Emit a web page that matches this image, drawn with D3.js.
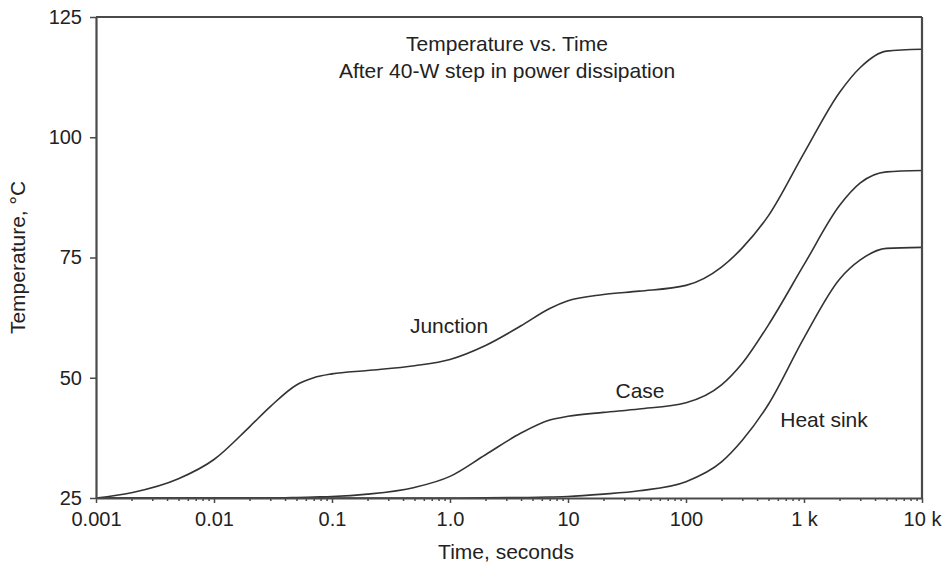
<!DOCTYPE html>
<html>
<head>
<meta charset="utf-8">
<script src="https://cdn.jsdelivr.net/npm/d3@7"></script>
<style>
html,body{margin:0;padding:0;background:#fff;}
svg text{font-family:"Liberation Sans",Arial,Helvetica,sans-serif;fill:#222;}
</style>
</head>
<body>
<svg id="chart" width="950" height="562"></svg>
<script>
// Data
const times = [0.001, 0.002, 0.005, 0.01, 0.02, 0.03, 0.05, 0.07, 0.1, 0.2, 0.5, 1, 2, 4, 7, 10, 20, 40, 100, 200, 300, 500, 1000, 2000, 3000, 5000, 10000];
const junction = [25, 26.1, 29.0, 33.0, 39.8, 44.0, 48.5, 50.0, 50.8, 51.5, 52.5, 53.8, 56.7, 60.8, 64.4, 66.0, 67.3, 68.0, 69.2, 73.0, 77.0, 83.7, 96.7, 109.3, 114.5, 117.9, 118.3];
const caseT   = [25, 25, 25, 25, 25, 25, 25.1, 25.2, 25.3, 25.8, 27.2, 29.5, 34.0, 38.5, 41.2, 42.0, 42.8, 43.5, 44.8, 48.5, 53.0, 61.0, 73.5, 85.8, 90.5, 92.8, 93.1];
const heatSink= [25, 25, 25, 25, 25, 25, 25, 25, 25, 25, 25, 25, 25.05, 25.1, 25.2, 25.3, 25.8, 26.5, 28.4, 32.5, 37.0, 44.5, 58.3, 70.5, 74.5, 76.9, 77.1];
const seriesNames = ["Junction", "Case", "Heat sink"];
const xTickValues = [0.001, 0.01, 0.1, 1, 10, 100, 1000, 10000];
const xTickLabels = ["0.001", "0.01", "0.1", "1.0", "10", "100", "1 k", "10 k"];
const yTickValues = [25, 50, 75, 100, 125];
const titleLines = ["Temperature vs. Time", "After 40-W step in power dissipation"];

const svg = d3.select("#chart");
const m = {left: 96, right: 28, top: 17, bottom: 64};
const W = 950, H = 562;
const x = d3.scaleLog().domain([0.001, 10000]).range([m.left, W - m.right]);
const y = d3.scaleLinear().domain([25, 125]).range([H - m.bottom, m.top]);

const axisColor = "#4a4a4a";

// curves
const line = d3.line().x(d => x(d[0])).y(d => y(d[1])).curve(d3.curveMonotoneX);
[junction, caseT, heatSink].forEach(vals => {
  svg.append("path")
    .datum(times.map((t, i) => [t, vals[i]]))
    .attr("fill", "none").attr("stroke", "#333").attr("stroke-width", 1.6)
    .attr("d", line);
});

// minor ticks on x
const minor = [];
for (let e = -3; e < 4; e++) for (let k = 2; k <= 9; k++) minor.push(k * Math.pow(10, e));
svg.append("g").attr("transform", `translate(0,${y(25)})`)
  .call(d3.axisBottom(x).tickValues(minor).tickSize(3).tickFormat(""))
  .call(g => { g.select(".domain").remove(); g.selectAll("line").attr("stroke", axisColor).attr("stroke-width", 1.5); });

// x axis
svg.append("g").attr("transform", `translate(0,${y(25)})`)
  .call(d3.axisBottom(x).tickValues(xTickValues).tickSize(5).tickSizeOuter(0).tickPadding(9)
    .tickFormat((d, i) => xTickLabels[i]))
  .call(g => {
    g.select(".domain").attr("stroke", axisColor).attr("stroke-width", 2.2);
    g.selectAll("line").attr("stroke", axisColor).attr("stroke-width", 1.5);
    g.selectAll("text").attr("font-size", 20).attr("fill", "#222");
  });

// y axis
svg.append("g").attr("transform", `translate(${m.left},0)`)
  .call(d3.axisLeft(y).tickValues(yTickValues).tickSize(6).tickSizeOuter(0).tickPadding(8))
  .call(g => {
    g.select(".domain").attr("stroke", axisColor).attr("stroke-width", 2.2);
    g.selectAll("line").attr("stroke", axisColor).attr("stroke-width", 1.5);
    g.selectAll("text").attr("font-size", 20).attr("fill", "#222");
  });

// top and right frame
svg.append("line").attr("x1", m.left).attr("x2", W - m.right).attr("y1", y(125)).attr("y2", y(125))
  .attr("stroke", axisColor).attr("stroke-width", 2.2);
svg.append("line").attr("x1", x(10000)).attr("x2", x(10000)).attr("y1", y(125)).attr("y2", y(25))
  .attr("stroke", axisColor).attr("stroke-width", 2.2);

// title
svg.append("text").attr("x", 507).attr("y", 51).attr("text-anchor", "middle").attr("font-size", 21).text(titleLines[0]);
svg.append("text").attr("x", 507).attr("y", 78).attr("text-anchor", "middle").attr("font-size", 21).text(titleLines[1]);

// series labels
svg.append("text").attr("x", 449).attr("y", 333).attr("text-anchor", "middle").attr("font-size", 21).text(seriesNames[0]);
svg.append("text").attr("x", 640).attr("y", 398).attr("text-anchor", "middle").attr("font-size", 21).text(seriesNames[1]);
svg.append("text").attr("x", 824).attr("y", 427).attr("text-anchor", "middle").attr("font-size", 21).text(seriesNames[2]);

// axis titles
svg.append("text").attr("x", 506).attr("y", 559).attr("text-anchor", "middle").attr("font-size", 21).text("Time, seconds");
svg.append("text").attr("transform", `translate(25,${(y(25) + y(125)) / 2}) rotate(-90)`)
  .attr("text-anchor", "middle").attr("font-size", 21).text("Temperature, \u00B0C");
</script>
</body>
</html>
